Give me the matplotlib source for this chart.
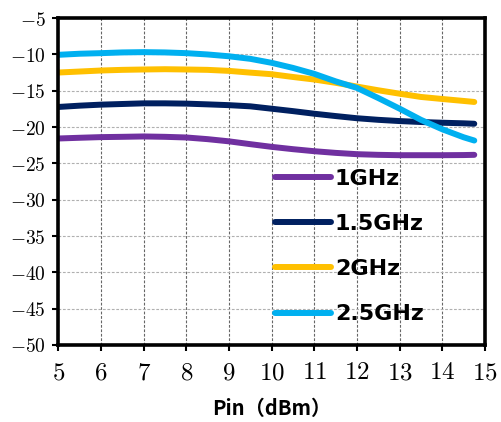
import matplotlib
matplotlib.use("Agg")
import matplotlib.pyplot as plt

plt.rcParams['mathtext.fontset'] = 'cm'

pin = [5, 5.5, 6, 6.5, 7, 7.5, 8, 8.5, 9, 9.5, 10, 10.5, 11, 11.5, 12,
       12.5, 13, 13.5, 14, 14.5, 14.75]
s_1ghz = [-21.57, -21.47, -21.38, -21.34, -21.29, -21.34, -21.43, -21.66, -21.96,
          -22.35, -22.72, -23.04, -23.32, -23.55, -23.73,
          -23.82, -23.87, -23.87, -23.87, -23.85, -23.82]
s_15ghz = [-17.23, -17.05, -16.91, -16.82, -16.73, -16.73, -16.77, -16.87, -16.98,
           -17.14, -17.47, -17.8, -18.16, -18.48, -18.78,
           -19.0, -19.17, -19.3, -19.4, -19.48, -19.54]
s_2ghz = [-12.49, -12.35, -12.21, -12.12, -12.07, -12.03, -12.07, -12.12, -12.26,
          -12.5, -12.72, -13.1, -13.45, -13.9, -14.42,
          -14.93, -15.4, -15.85, -16.13, -16.4, -16.54]
s_25ghz = [-10.05, -9.9, -9.82, -9.72, -9.68, -9.72, -9.82, -10.0, -10.25,
           -10.6, -11.15, -11.85, -12.67, -13.7, -14.6,
           -16.0, -17.46, -19.0, -20.3, -21.4, -21.85]
labels = ['1GHz', '1.5GHz', '2GHz', '2.5GHz']
colors = ['#7030A0', '#002060', '#FFC000', '#00B0F0']
xticks = list(range(5, 16))
yticks = list(range(-50, -4, 5))

fig = plt.figure(figsize=(5.02, 4.22), dpi=100)
ax = fig.add_axes([0.116, 0.1825, 0.85, 0.7745])

for ys, lab, c in zip([s_1ghz, s_15ghz, s_2ghz, s_25ghz], labels, colors):
    ax.plot(pin, ys, color=c, lw=4.3, solid_capstyle='round', label=lab)

ax.set_xlim(5, 15)
ax.set_ylim(-50, -5)
ax.set_xticks(xticks, labels=[f'${v}$' for v in xticks], fontsize=18)
ax.set_yticks(yticks, labels=[f'${v}$' for v in yticks], fontsize=14)
ax.tick_params(axis='both', direction='out', length=4, width=1.5, color='black')
ax.tick_params(axis='x', pad=7)
ax.tick_params(axis='y', pad=5)
ax.grid(axis='x', color='#666666', lw=0.8, linestyle=(0, (2.5, 1.5)))
ax.grid(axis='y', color='#b0b0b0', lw=0.8, linestyle=(0, (2.5, 1.5)))
for sp in ax.spines.values():
    sp.set_linewidth(2.6)
    sp.set_color('black')

ax.set_xlabel('Pin（dBm）', fontsize=14.5, fontweight='bold',
              family=['Noto Sans CJK SC', 'DejaVu Sans'], labelpad=10)

leg = ax.legend(loc='upper left', bbox_to_anchor=(275 / 502, 1 - 169 / 422),
                bbox_transform=fig.transFigure, frameon=False,
                prop={'family': 'DejaVu Sans', 'weight': 'bold', 'size': 16},
                handlelength=2.5, handletextpad=0.2, labelspacing=1.13, borderpad=0,
                borderaxespad=0)

fig.savefig('out.png', dpi=100)
